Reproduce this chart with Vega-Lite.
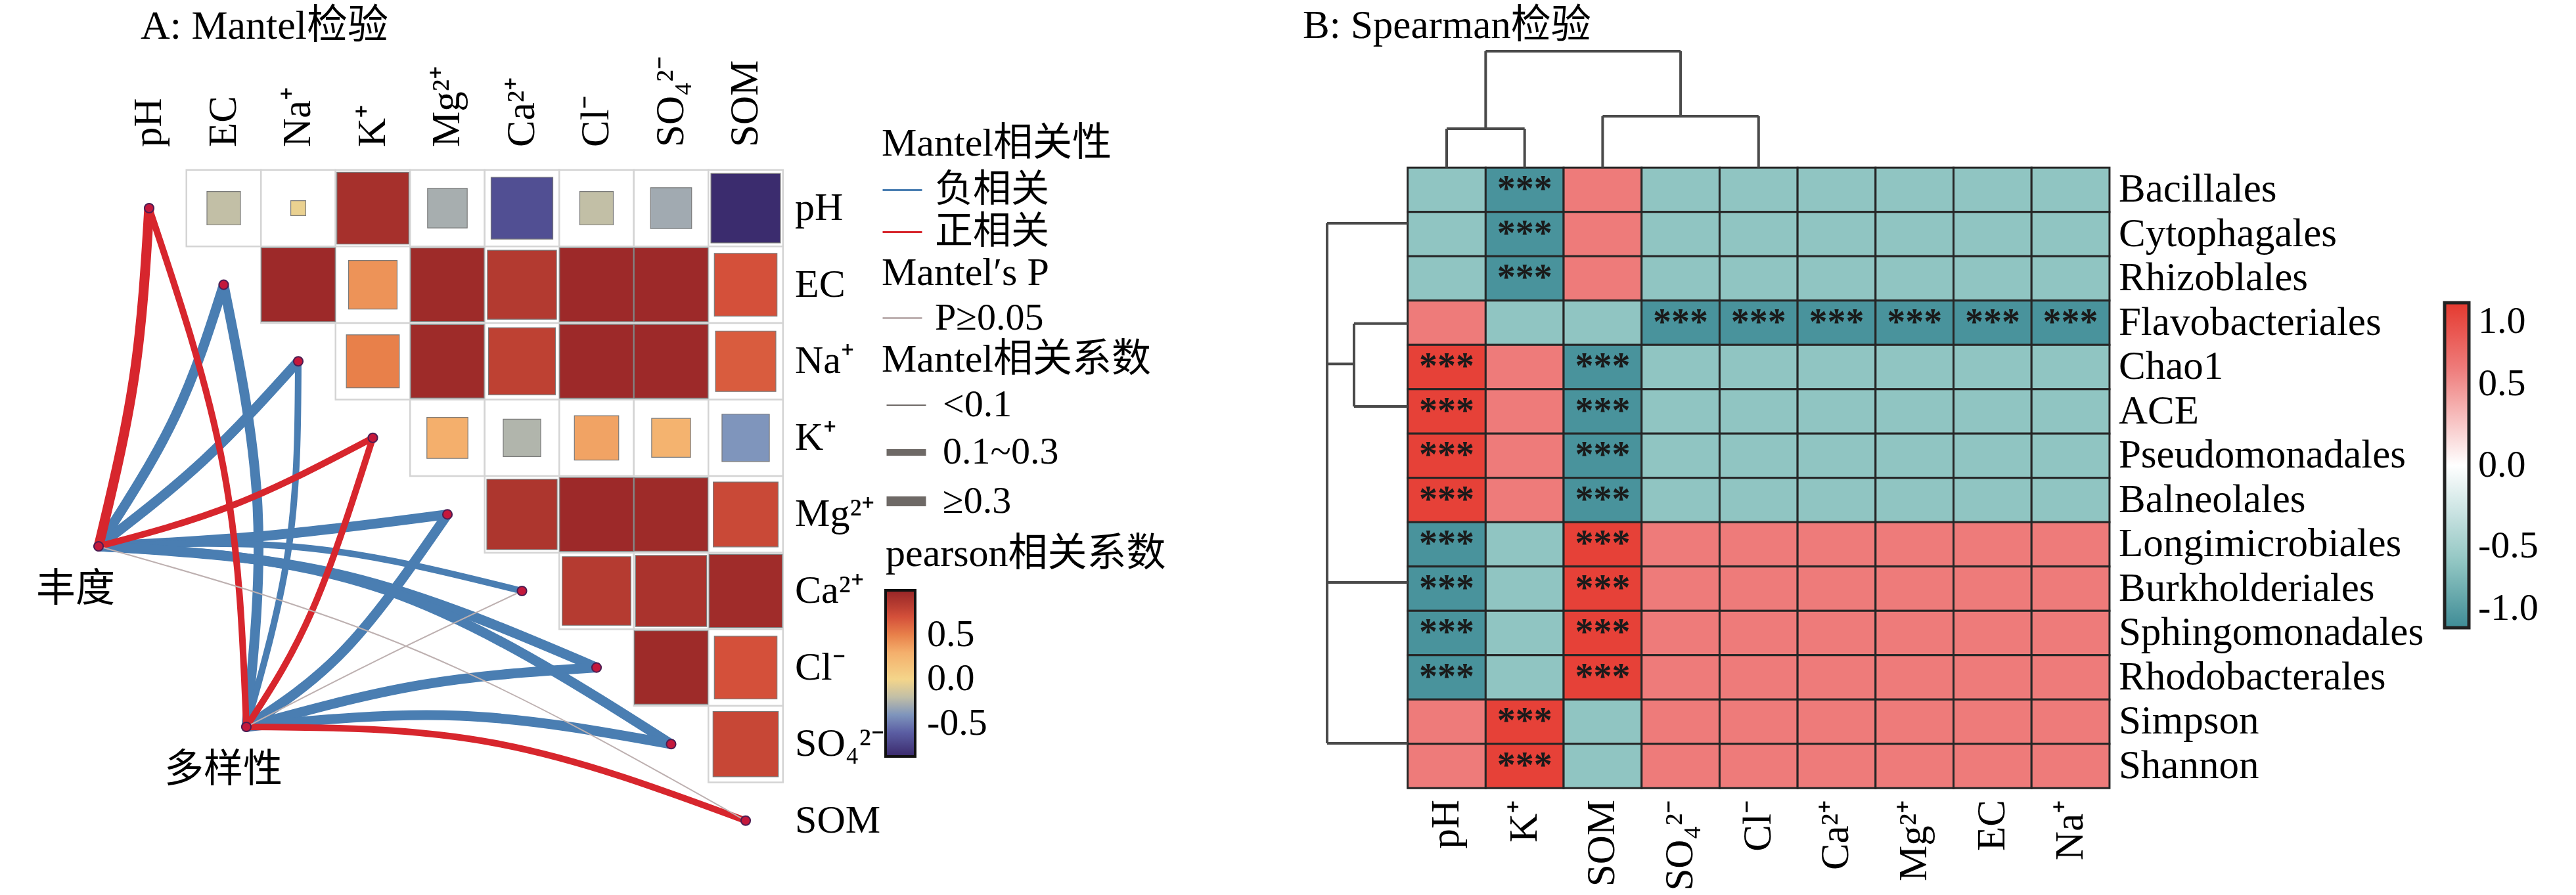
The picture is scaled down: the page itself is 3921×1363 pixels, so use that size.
{
"$schema": "https://vega.github.io/schema/vega-lite/v6.json",
"width": 3921, "height": 1363, "autosize": "none", "padding": 0, "background": "white",
"config": {"view": {"stroke": null}, "font": "Liberation Serif, Noto Sans CJK SC", "axis": {"disable": true},
 "legend": {"titleFontWeight": "normal", "titleColor": "#000", "labelColor": "#000", "padding": 0, "titleLimit": 2000, "labelLimit": 2000, "titleFont": "Liberation Serif, Noto Sans CJK SC", "labelFont": "Liberation Serif, Noto Sans CJK SC"}},
"datasets": {
 "vars": [{"k":0,"v":"pH"},{"k":1,"v":"EC"},{"k":2,"v":"Na⁺"},{"k":3,"v":"K⁺"},{"k":4,"v":"Mg²⁺"},{"k":5,"v":"Ca²⁺"},{"k":6,"v":"Cl⁻"},{"k":7,"v":"SO₄²⁻"},{"k":8,"v":"SOM"}],
 "hubs": [{"n":"丰度","i":-0.678,"j":4.417},{"n":"多样性","i":1.304,"j":6.775}],
 "pearson": [
  {"row":0,"col":1,"r":-0.2},{"row":0,"col":2,"r":-0.04},{"row":0,"col":3,"r":0.92},{"row":0,"col":4,"r":-0.28},{"row":0,"col":5,"r":-0.68},{"row":0,"col":6,"r":-0.2},{"row":0,"col":7,"r":-0.3},{"row":0,"col":8,"r":-0.86},
  {"row":1,"col":2,"r":0.97},{"row":1,"col":3,"r":0.42},{"row":1,"col":4,"r":0.96},{"row":1,"col":5,"r":0.85},{"row":1,"col":6,"r":0.97},{"row":1,"col":7,"r":0.97},{"row":1,"col":8,"r":0.7},
  {"row":2,"col":3,"r":0.5},{"row":2,"col":4,"r":0.96},{"row":2,"col":5,"r":0.8},{"row":2,"col":6,"r":0.97},{"row":2,"col":7,"r":0.97},{"row":2,"col":8,"r":0.65},
  {"row":3,"col":4,"r":0.3},{"row":3,"col":5,"r":-0.25},{"row":3,"col":6,"r":0.35},{"row":3,"col":7,"r":0.27},{"row":3,"col":8,"r":-0.4},
  {"row":4,"col":5,"r":0.88},{"row":4,"col":6,"r":0.97},{"row":4,"col":7,"r":0.96},{"row":4,"col":8,"r":0.75},
  {"row":5,"col":6,"r":0.84},{"row":5,"col":7,"r":0.9},{"row":5,"col":8,"r":0.95},
  {"row":6,"col":7,"r":0.96},{"row":6,"col":8,"r":0.7},
  {"row":7,"col":8,"r":0.76}],
 "edges": [
  {"e":"EC-H","o":0,"i":-0.678,"j":4.417,"sign":"负相关","mr":0.35},{"e":"EC-H","o":1,"i":0.344,"j":2.728,"sign":"负相关","mr":0.35},{"e":"EC-H","o":2,"i":1,"j":1,"sign":"负相关","mr":0.35},
  {"e":"EC-D","o":0,"i":1.304,"j":6.775,"sign":"负相关","mr":0.35},{"e":"EC-D","o":1,"i":1.454,"j":3.902,"sign":"负相关","mr":0.35},{"e":"EC-D","o":2,"i":1,"j":1,"sign":"负相关","mr":0.35},
  {"e":"Na-H","o":0,"i":-0.678,"j":4.417,"sign":"负相关","mr":0.35},{"e":"Na-H","o":1,"i":0.731,"j":3.293,"sign":"负相关","mr":0.35},{"e":"Na-H","o":2,"i":2,"j":2,"sign":"负相关","mr":0.35},
  {"e":"Na-D","o":0,"i":1.304,"j":6.775,"sign":"负相关","mr":0.25},{"e":"Na-D","o":1,"i":1.877,"j":4.4,"sign":"负相关","mr":0.25},{"e":"Na-D","o":2,"i":2,"j":2,"sign":"负相关","mr":0.25},
  {"e":"Mg-H","o":0,"i":-0.678,"j":4.417,"sign":"负相关","mr":0.35},{"e":"Mg-H","o":1,"i":1.656,"j":4.271,"sign":"负相关","mr":0.35},{"e":"Mg-H","o":2,"i":4,"j":4,"sign":"负相关","mr":0.35},
  {"e":"Mg-D","o":0,"i":1.304,"j":6.775,"sign":"负相关","mr":0.35},{"e":"Mg-D","o":1,"i":2.643,"j":5.746,"sign":"负相关","mr":0.35},{"e":"Mg-D","o":2,"i":4,"j":4,"sign":"负相关","mr":0.35},
  {"e":"Ca-H","o":0,"i":-0.678,"j":4.417,"sign":"负相关","mr":0.2},{"e":"Ca-H","o":1,"i":2.159,"j":4.442,"sign":"负相关","mr":0.2},{"e":"Ca-H","o":2,"i":5,"j":5,"sign":"负相关","mr":0.2},
  {"e":"Cl-H","o":0,"i":-0.678,"j":4.417,"sign":"负相关","mr":0.35},{"e":"Cl-H","o":1,"i":2.67,"j":4.811,"sign":"负相关","mr":0.35},{"e":"Cl-H","o":2,"i":6,"j":6,"sign":"负相关","mr":0.35},
  {"e":"Cl-D","o":0,"i":1.304,"j":6.775,"sign":"负相关","mr":0.35},{"e":"Cl-D","o":1,"i":3.656,"j":6.226,"sign":"负相关","mr":0.35},{"e":"Cl-D","o":2,"i":6,"j":6,"sign":"负相关","mr":0.35},
  {"e":"SO4-H","o":0,"i":-0.678,"j":4.417,"sign":"负相关","mr":0.35},{"e":"SO4-H","o":1,"i":3.163,"j":4.983,"sign":"负相关","mr":0.35},{"e":"SO4-H","o":2,"i":7,"j":7,"sign":"负相关","mr":0.35},
  {"e":"SO4-D","o":0,"i":1.304,"j":6.775,"sign":"负相关","mr":0.35},{"e":"SO4-D","o":1,"i":4.167,"j":6.63,"sign":"负相关","mr":0.35},{"e":"SO4-D","o":2,"i":7,"j":7,"sign":"负相关","mr":0.35},
  {"e":"pH-H","o":0,"i":-0.678,"j":4.417,"sign":"正相关","mr":0.32},{"e":"pH-H","o":1,"i":-0.203,"j":2.213,"sign":"正相关","mr":0.32},{"e":"pH-H","o":2,"i":0,"j":0,"sign":"正相关","mr":0.32},
  {"e":"pH-D","o":0,"i":1.304,"j":6.775,"sign":"正相关","mr":0.25},{"e":"pH-D","o":1,"i":0.996,"j":3.388,"sign":"正相关","mr":0.25},{"e":"pH-D","o":2,"i":0,"j":0,"sign":"正相关","mr":0.25},
  {"e":"K-H","o":0,"i":-0.678,"j":4.417,"sign":"正相关","mr":0.25},{"e":"K-H","o":1,"i":1.154,"j":3.868,"sign":"正相关","mr":0.25},{"e":"K-H","o":2,"i":3,"j":3,"sign":"正相关","mr":0.25},
  {"e":"K-D","o":0,"i":1.304,"j":6.775,"sign":"正相关","mr":0.22},{"e":"K-D","o":1,"i":2.185,"j":5.257,"sign":"正相关","mr":0.22},{"e":"K-D","o":2,"i":3,"j":3,"sign":"正相关","mr":0.22},
  {"e":"SOM-D","o":0,"i":1.304,"j":6.775,"sign":"正相关","mr":0.18},{"e":"SOM-D","o":1,"i":4.652,"j":6.99,"sign":"正相关","mr":0.18},{"e":"SOM-D","o":2,"i":8,"j":8,"sign":"正相关","mr":0.18}],
 "edgesP": [
  {"e":"Ca-D","o":0,"i":1.304,"j":6.775,"p":"P≥0.05","mr":0.05},{"e":"Ca-D","o":1,"i":3.154,"j":5.858,"p":"P≥0.05","mr":0.05},{"e":"Ca-D","o":2,"i":5,"j":5,"p":"P≥0.05","mr":0.05},
  {"e":"SOM-H","o":0,"i":-0.678,"j":4.417,"p":"P≥0.05","mr":0.05},{"e":"SOM-H","o":1,"i":3.656,"j":5.806,"p":"P≥0.05","mr":0.05},{"e":"SOM-H","o":2,"i":8,"j":8,"p":"P≥0.05","mr":0.05}],
 "taxa": [{"r":0,"t":"Bacillales"},{"r":1,"t":"Cytophagales"},{"r":2,"t":"Rhizoblales"},{"r":3,"t":"Flavobacteriales"},{"r":4,"t":"Chao1"},{"r":5,"t":"ACE"},{"r":6,"t":"Pseudomonadales"},{"r":7,"t":"Balneolales"},{"r":8,"t":"Longimicrobiales"},{"r":9,"t":"Burkholderiales"},{"r":10,"t":"Sphingomonadales"},{"r":11,"t":"Rhodobacterales"},{"r":12,"t":"Simpson"},{"r":13,"t":"Shannon"}],
 "envB": [{"c":0,"v":"pH"},{"c":1,"v":"K⁺"},{"c":2,"v":"SOM"},{"c":3,"v":"SO₄²⁻"},{"c":4,"v":"Cl⁻"},{"c":5,"v":"Ca²⁺"},{"c":6,"v":"Mg²⁺"},{"c":7,"v":"EC"},{"c":8,"v":"Na⁺"}],
 "spear": [
  {"r":0,"c":0,"v":-0.6,"s":""},{"r":0,"c":1,"v":-0.95,"s":"***"},{"r":0,"c":2,"v":0.6,"s":""},{"r":0,"c":3,"v":-0.6,"s":""},{"r":0,"c":4,"v":-0.6,"s":""},{"r":0,"c":5,"v":-0.6,"s":""},{"r":0,"c":6,"v":-0.6,"s":""},{"r":0,"c":7,"v":-0.6,"s":""},{"r":0,"c":8,"v":-0.6,"s":""},
  {"r":1,"c":0,"v":-0.6,"s":""},{"r":1,"c":1,"v":-0.95,"s":"***"},{"r":1,"c":2,"v":0.6,"s":""},{"r":1,"c":3,"v":-0.6,"s":""},{"r":1,"c":4,"v":-0.6,"s":""},{"r":1,"c":5,"v":-0.6,"s":""},{"r":1,"c":6,"v":-0.6,"s":""},{"r":1,"c":7,"v":-0.6,"s":""},{"r":1,"c":8,"v":-0.6,"s":""},
  {"r":2,"c":0,"v":-0.6,"s":""},{"r":2,"c":1,"v":-0.95,"s":"***"},{"r":2,"c":2,"v":0.6,"s":""},{"r":2,"c":3,"v":-0.6,"s":""},{"r":2,"c":4,"v":-0.6,"s":""},{"r":2,"c":5,"v":-0.6,"s":""},{"r":2,"c":6,"v":-0.6,"s":""},{"r":2,"c":7,"v":-0.6,"s":""},{"r":2,"c":8,"v":-0.6,"s":""},
  {"r":3,"c":0,"v":0.6,"s":""},{"r":3,"c":1,"v":-0.6,"s":""},{"r":3,"c":2,"v":-0.6,"s":""},{"r":3,"c":3,"v":-0.95,"s":"***"},{"r":3,"c":4,"v":-0.95,"s":"***"},{"r":3,"c":5,"v":-0.95,"s":"***"},{"r":3,"c":6,"v":-0.95,"s":"***"},{"r":3,"c":7,"v":-0.95,"s":"***"},{"r":3,"c":8,"v":-0.95,"s":"***"},
  {"r":4,"c":0,"v":0.95,"s":"***"},{"r":4,"c":1,"v":0.6,"s":""},{"r":4,"c":2,"v":-0.95,"s":"***"},{"r":4,"c":3,"v":-0.6,"s":""},{"r":4,"c":4,"v":-0.6,"s":""},{"r":4,"c":5,"v":-0.6,"s":""},{"r":4,"c":6,"v":-0.6,"s":""},{"r":4,"c":7,"v":-0.6,"s":""},{"r":4,"c":8,"v":-0.6,"s":""},
  {"r":5,"c":0,"v":0.95,"s":"***"},{"r":5,"c":1,"v":0.6,"s":""},{"r":5,"c":2,"v":-0.95,"s":"***"},{"r":5,"c":3,"v":-0.6,"s":""},{"r":5,"c":4,"v":-0.6,"s":""},{"r":5,"c":5,"v":-0.6,"s":""},{"r":5,"c":6,"v":-0.6,"s":""},{"r":5,"c":7,"v":-0.6,"s":""},{"r":5,"c":8,"v":-0.6,"s":""},
  {"r":6,"c":0,"v":0.95,"s":"***"},{"r":6,"c":1,"v":0.6,"s":""},{"r":6,"c":2,"v":-0.95,"s":"***"},{"r":6,"c":3,"v":-0.6,"s":""},{"r":6,"c":4,"v":-0.6,"s":""},{"r":6,"c":5,"v":-0.6,"s":""},{"r":6,"c":6,"v":-0.6,"s":""},{"r":6,"c":7,"v":-0.6,"s":""},{"r":6,"c":8,"v":-0.6,"s":""},
  {"r":7,"c":0,"v":0.95,"s":"***"},{"r":7,"c":1,"v":0.6,"s":""},{"r":7,"c":2,"v":-0.95,"s":"***"},{"r":7,"c":3,"v":-0.6,"s":""},{"r":7,"c":4,"v":-0.6,"s":""},{"r":7,"c":5,"v":-0.6,"s":""},{"r":7,"c":6,"v":-0.6,"s":""},{"r":7,"c":7,"v":-0.6,"s":""},{"r":7,"c":8,"v":-0.6,"s":""},
  {"r":8,"c":0,"v":-0.95,"s":"***"},{"r":8,"c":1,"v":-0.6,"s":""},{"r":8,"c":2,"v":0.95,"s":"***"},{"r":8,"c":3,"v":0.6,"s":""},{"r":8,"c":4,"v":0.6,"s":""},{"r":8,"c":5,"v":0.6,"s":""},{"r":8,"c":6,"v":0.6,"s":""},{"r":8,"c":7,"v":0.6,"s":""},{"r":8,"c":8,"v":0.6,"s":""},
  {"r":9,"c":0,"v":-0.95,"s":"***"},{"r":9,"c":1,"v":-0.6,"s":""},{"r":9,"c":2,"v":0.95,"s":"***"},{"r":9,"c":3,"v":0.6,"s":""},{"r":9,"c":4,"v":0.6,"s":""},{"r":9,"c":5,"v":0.6,"s":""},{"r":9,"c":6,"v":0.6,"s":""},{"r":9,"c":7,"v":0.6,"s":""},{"r":9,"c":8,"v":0.6,"s":""},
  {"r":10,"c":0,"v":-0.95,"s":"***"},{"r":10,"c":1,"v":-0.6,"s":""},{"r":10,"c":2,"v":0.95,"s":"***"},{"r":10,"c":3,"v":0.6,"s":""},{"r":10,"c":4,"v":0.6,"s":""},{"r":10,"c":5,"v":0.6,"s":""},{"r":10,"c":6,"v":0.6,"s":""},{"r":10,"c":7,"v":0.6,"s":""},{"r":10,"c":8,"v":0.6,"s":""},
  {"r":11,"c":0,"v":-0.95,"s":"***"},{"r":11,"c":1,"v":-0.6,"s":""},{"r":11,"c":2,"v":0.95,"s":"***"},{"r":11,"c":3,"v":0.6,"s":""},{"r":11,"c":4,"v":0.6,"s":""},{"r":11,"c":5,"v":0.6,"s":""},{"r":11,"c":6,"v":0.6,"s":""},{"r":11,"c":7,"v":0.6,"s":""},{"r":11,"c":8,"v":0.6,"s":""},
  {"r":12,"c":0,"v":0.6,"s":""},{"r":12,"c":1,"v":0.95,"s":"***"},{"r":12,"c":2,"v":-0.6,"s":""},{"r":12,"c":3,"v":0.6,"s":""},{"r":12,"c":4,"v":0.6,"s":""},{"r":12,"c":5,"v":0.6,"s":""},{"r":12,"c":6,"v":0.6,"s":""},{"r":12,"c":7,"v":0.6,"s":""},{"r":12,"c":8,"v":0.6,"s":""},
  {"r":13,"c":0,"v":0.6,"s":""},{"r":13,"c":1,"v":0.95,"s":"***"},{"r":13,"c":2,"v":-0.6,"s":""},{"r":13,"c":3,"v":0.6,"s":""},{"r":13,"c":4,"v":0.6,"s":""},{"r":13,"c":5,"v":0.6,"s":""},{"r":13,"c":6,"v":0.6,"s":""},{"r":13,"c":7,"v":0.6,"s":""},{"r":13,"c":8,"v":0.6,"s":""}],
 "dendro": [
  {"x":0,"y":-0.5,"x2":0,"y2":-1.378},{"x":1,"y":-0.5,"x2":1,"y2":-1.378},{"x":0,"y":-1.378,"x2":1,"y2":-1.378},{"x":0.5,"y":-1.378,"x2":0.5,"y2":-3.126},
  {"x":2,"y":-0.5,"x2":2,"y2":-1.659},{"x":4,"y":-0.5,"x2":4,"y2":-1.659},{"x":2,"y":-1.659,"x2":4,"y2":-1.659},{"x":3,"y":-1.659,"x2":3,"y2":-3.126},
  {"x":0.5,"y":-3.126,"x2":3,"y2":-3.126},
  {"x":-1.533,"y":0.756,"x2":-1.533,"y2":12.49},{"x":-1.533,"y":0.756,"x2":-0.5,"y2":0.756},
  {"x":-1.188,"y":3.02,"x2":-1.188,"y2":4.89},{"x":-1.188,"y":3.02,"x2":-0.5,"y2":3.02},{"x":-1.188,"y":4.89,"x2":-0.5,"y2":4.89},{"x":-1.533,"y":3.93,"x2":-1.188,"y2":3.93},
  {"x":-1.533,"y":8.86,"x2":-0.5,"y2":8.86},{"x":-1.533,"y":12.49,"x2":-0.5,"y2":12.49}]
},
"layer": [
 {"layer": [
  {"data": {"name": "pearson"}, "mark": {"type": "point", "shape": "M-1,-1.0273H1V1.0273H-1Z", "size": 12882, "filled": true, "fill": "#ffffff", "stroke": "#d4d4d4", "strokeWidth": 2.5, "opacity": 1},
   "encoding": {"x": {"field": "col", "type": "quantitative", "scale": {"domain": [-2.0, 32.546], "nice": false, "zero": false}, "axis": null},
                "y": {"field": "row", "type": "quantitative", "scale": {"domain": [-2.719, 8.971], "nice": false, "zero": false, "reverse": true}, "axis": null}}},
  {"data": {"name": "pearson"}, "mark": {"type": "point", "shape": "square", "filled": true, "stroke": "#7a7a7a", "strokeWidth": 1.2, "opacity": 1},
   "encoding": {"x": {"field": "col", "type": "quantitative", "scale": {"domain": [-2.0, 32.546], "nice": false, "zero": false}, "axis": null},
                "y": {"field": "row", "type": "quantitative", "scale": {"domain": [-2.719, 8.971], "nice": false, "zero": false, "reverse": true}, "axis": null},
                "fill": {"field": "r", "type": "quantitative", "scale": {"domain": [-0.87, -0.6, -0.4, -0.2, 0, 0.3, 0.5, 0.7, 0.85, 1.0], "range": ["#3A2A6C", "#5B5EA3", "#7F95BC", "#C2BFA6", "#F4D58A", "#F4AF6C", "#E8804A", "#D4503A", "#B33A30", "#972527"], "interpolate": "rgb"},
                         "legend": {"title": "pearson相关系数", "orient": "none", "legendX": 1348, "legendY": 815, "direction": "vertical", "gradientLength": 253, "gradientThickness": 45, "gradientStrokeColor": "#111", "gradientStrokeWidth": 4, "values": [-0.5, 0, 0.5], "format": ".1f", "labelExpr": "replace(datum.label, '−', '-')", "labelFontSize": 58, "labelOffset": 18, "labelOverlap": false, "titleFontSize": 60, "titlePadding": 24}},
                "size": {"field": "r", "type": "quantitative", "scale": {"domain": [-1, 0, 1], "range": [13000, 0, 13000], "zero": false}, "legend": null}}},
  {"data": {"name": "edges"}, "mark": {"type": "line", "interpolate": "natural", "strokeCap": "round", "opacity": 1},
   "encoding": {"x": {"field": "i", "type": "quantitative", "scale": {"domain": [-2.0, 32.546], "nice": false, "zero": false}, "axis": null},
                "y": {"field": "j", "type": "quantitative", "scale": {"domain": [-2.719, 8.971], "nice": false, "zero": false, "reverse": true}, "axis": null},
                "detail": {"field": "e", "type": "nominal"},
                "order": {"field": "o", "type": "quantitative"},
                "stroke": {"field": "sign", "type": "nominal", "scale": {"domain": ["负相关", "正相关"], "range": ["#4A7EB2", "#D7262D"]},
                           "legend": {"title": "Mantel相关性", "orient": "none", "legendX": 1342, "legendY": 190, "symbolType": "stroke", "symbolSize": 3600, "symbolStrokeWidth": 3, "titleFontSize": 60, "labelFontSize": 58, "titlePadding": 8, "rowPadding": 3, "labelOffset": 18}},
                "strokeWidth": {"field": "mr", "type": "quantitative", "scale": {"type": "threshold", "domain": [0.1, 0.3], "range": [2, 10, 15]},
                           "legend": {"title": "Mantel相关系数", "orient": "none", "legendX": 1342, "legendY": 519, "symbolType": "stroke", "symbolSize": 3600, "symbolStrokeColor": "#6e6966", "titleFontSize": 60, "labelFontSize": 58, "titlePadding": 7, "rowPadding": 8, "labelOffset": 18,
                                      "labelExpr": "replace(replace(replace(datum.label, '< ', '<'), ' – ', '~'), '≥ ', '≥')",
                                      "encode": {"symbols": {"update": {"stroke": {"value": "#6e6966"}}}}}}}},
  {"data": {"name": "edgesP"}, "mark": {"type": "line", "interpolate": "natural", "opacity": 1},
   "encoding": {"x": {"field": "i", "type": "quantitative", "scale": {"domain": [-2.0, 32.546], "nice": false, "zero": false}, "axis": null},
                "y": {"field": "j", "type": "quantitative", "scale": {"domain": [-2.719, 8.971], "nice": false, "zero": false, "reverse": true}, "axis": null},
                "detail": {"field": "e", "type": "nominal"},
                "order": {"field": "o", "type": "quantitative"},
                "strokeWidth": {"field": "mr", "type": "quantitative", "scale": {"type": "threshold", "domain": [0.1, 0.3], "range": [2, 10, 15]}},
                "color": {"field": "p", "type": "nominal", "scale": {"domain": ["P≥0.05"], "range": ["#bdb0b0"]},
                          "legend": {"title": "Mantel′s P", "orient": "none", "legendX": 1342, "legendY": 387, "symbolType": "stroke", "symbolSize": 3600, "symbolStrokeWidth": 3, "titleFontSize": 60, "labelFontSize": 58, "titlePadding": 6, "labelOffset": 18,
                                     "encode": {"symbols": {"update": {"stroke": {"value": "#8a8580"}}}}}}}},
  {"data": {"name": "vars"}, "mark": {"type": "point", "filled": true, "size": 200, "fill": "#C4183C", "stroke": "#4e1d52", "strokeWidth": 2, "opacity": 1},
   "encoding": {"x": {"field": "k", "type": "quantitative", "scale": {"domain": [-2.0, 32.546], "nice": false, "zero": false}, "axis": null},
                "y": {"field": "k", "type": "quantitative", "scale": {"domain": [-2.719, 8.971], "nice": false, "zero": false, "reverse": true}, "axis": null}}},
  {"data": {"name": "hubs"}, "mark": {"type": "point", "filled": true, "size": 200, "fill": "#C4183C", "stroke": "#4e1d52", "strokeWidth": 2, "opacity": 1},
   "encoding": {"x": {"field": "i", "type": "quantitative", "scale": {"domain": [-2.0, 32.546], "nice": false, "zero": false}, "axis": null},
                "y": {"field": "j", "type": "quantitative", "scale": {"domain": [-2.719, 8.971], "nice": false, "zero": false, "reverse": true}, "axis": null}}},
  {"data": {"name": "hubs"}, "mark": {"type": "text", "fontSize": 60, "dx": -35, "dy": 66, "align": "center", "baseline": "middle", "color": "#000"},
   "encoding": {"x": {"field": "i", "type": "quantitative", "scale": {"domain": [-2.0, 32.546], "nice": false, "zero": false}, "axis": null},
                "y": {"field": "j", "type": "quantitative", "scale": {"domain": [-2.719, 8.971], "nice": false, "zero": false, "reverse": true}, "axis": null},
                "text": {"field": "n"}}},
  {"data": {"name": "vars"}, "mark": {"type": "text", "fontSize": 61, "angle": 270, "align": "left", "baseline": "middle", "dx": 8, "color": "#000"},
   "encoding": {"x": {"field": "k", "type": "quantitative", "scale": {"domain": [-2.0, 32.546], "nice": false, "zero": false}, "axis": null},
                "y": {"datum": -0.729, "type": "quantitative", "scale": {"domain": [-2.719, 8.971], "nice": false, "zero": false, "reverse": true}, "axis": null},
                "text": {"field": "v"}}},
  {"data": {"name": "vars"}, "mark": {"type": "text", "fontSize": 60, "align": "left", "baseline": "middle", "color": "#000"},
   "encoding": {"x": {"datum": 8.661, "type": "quantitative", "scale": {"domain": [-2.0, 32.546], "nice": false, "zero": false}, "axis": null},
                "y": {"field": "k", "type": "quantitative", "scale": {"domain": [-2.719, 8.971], "nice": false, "zero": false, "reverse": true}, "axis": null},
                "text": {"field": "v"}}},
  {"data": {"values": [{"t": "A: Mantel检验"}]}, "mark": {"type": "text", "fontSize": 62, "align": "left", "baseline": "middle", "color": "#000"},
   "encoding": {"x": {"datum": -0.115, "type": "quantitative", "scale": {"domain": [-2.0, 32.546], "nice": false, "zero": false}, "axis": null},
                "y": {"datum": -2.376, "type": "quantitative", "scale": {"domain": [-2.719, 8.971], "nice": false, "zero": false, "reverse": true}, "axis": null},
                "text": {"field": "t"}}}
 ]},
 {"layer": [
  {"data": {"name": "spear"}, "mark": {"type": "point", "shape": "M-1,-0.5687H1V0.5687H-1Z", "size": 14090, "filled": true, "stroke": "#262626", "strokeWidth": 3, "opacity": 1},
   "encoding": {"x": {"field": "c", "type": "quantitative", "scale": {"domain": [-18.551, 14.482], "nice": false, "zero": false}, "axis": null},
                "y": {"field": "r", "type": "quantitative", "scale": {"domain": [-4.2815, 15.911], "nice": false, "zero": false, "reverse": true}, "axis": null},
                "fill": {"field": "v", "type": "quantitative", "scale": {"domain": [-1, -0.6, 0, 0.6, 1], "range": ["#3F8C96", "#90C5C2", "#FFFFFF", "#EE7B7A", "#E5392F"], "interpolate": "rgb"},
                         "legend": {"title": null, "orient": "none", "legendX": 3721, "legendY": 461, "direction": "vertical", "gradientLength": 495, "gradientThickness": 37, "gradientStrokeColor": "#222", "gradientStrokeWidth": 5, "values": [-1, -0.5, 0, 0.5, 1], "format": ".1f", "labelExpr": "replace(datum.label, '−', '-')", "labelFontSize": 58, "labelOffset": 14, "labelOverlap": false}}}},
  {"data": {"name": "spear"}, "mark": {"type": "text", "fontSize": 56, "fontWeight": "bold", "align": "center", "baseline": "middle", "color": "#1a1a1a"},
   "encoding": {"x": {"field": "c", "type": "quantitative", "scale": {"domain": [-18.551, 14.482], "nice": false, "zero": false}, "axis": null},
                "y": {"field": "r", "type": "quantitative", "scale": {"domain": [-4.2815, 15.911], "nice": false, "zero": false, "reverse": true}, "axis": null},
                "text": {"field": "s"}}},
  {"data": {"name": "dendro"}, "mark": {"type": "rule", "stroke": "#4a4a4a", "strokeWidth": 4},
   "encoding": {"x": {"field": "x", "type": "quantitative", "scale": {"domain": [-18.551, 14.482], "nice": false, "zero": false}, "axis": null},
                "y": {"field": "y", "type": "quantitative", "scale": {"domain": [-4.2815, 15.911], "nice": false, "zero": false, "reverse": true}, "axis": null},
                "x2": {"field": "x2"}, "y2": {"field": "y2"}}},
  {"data": {"name": "taxa"}, "mark": {"type": "text", "fontSize": 61, "align": "left", "baseline": "middle", "color": "#000"},
   "encoding": {"x": {"datum": 8.618, "type": "quantitative", "scale": {"domain": [-18.551, 14.482], "nice": false, "zero": false}, "axis": null},
                "y": {"field": "r", "type": "quantitative", "scale": {"domain": [-4.2815, 15.911], "nice": false, "zero": false, "reverse": true}, "axis": null},
                "text": {"field": "t"}}},
  {"data": {"name": "envB"}, "mark": {"type": "text", "fontSize": 61, "angle": 270, "align": "right", "baseline": "middle", "color": "#000"},
   "encoding": {"x": {"field": "c", "type": "quantitative", "scale": {"domain": [-18.551, 14.482], "nice": false, "zero": false}, "axis": null},
                "y": {"datum": 13.763, "type": "quantitative", "scale": {"domain": [-4.2815, 15.911], "nice": false, "zero": false, "reverse": true}, "axis": null},
                "text": {"field": "v"}}},
  {"data": {"values": [{"t": "B: Spearman检验"}]}, "mark": {"type": "text", "fontSize": 61, "align": "left", "baseline": "middle", "color": "#000"},
   "encoding": {"x": {"datum": -1.845, "type": "quantitative", "scale": {"domain": [-18.551, 14.482], "nice": false, "zero": false}, "axis": null},
                "y": {"datum": -3.689, "type": "quantitative", "scale": {"domain": [-4.2815, 15.911], "nice": false, "zero": false, "reverse": true}, "axis": null},
                "text": {"field": "t"}}}
 ]}
],
"resolve": {"scale": {"x": "independent", "y": "independent", "fill": "independent"}}
}
